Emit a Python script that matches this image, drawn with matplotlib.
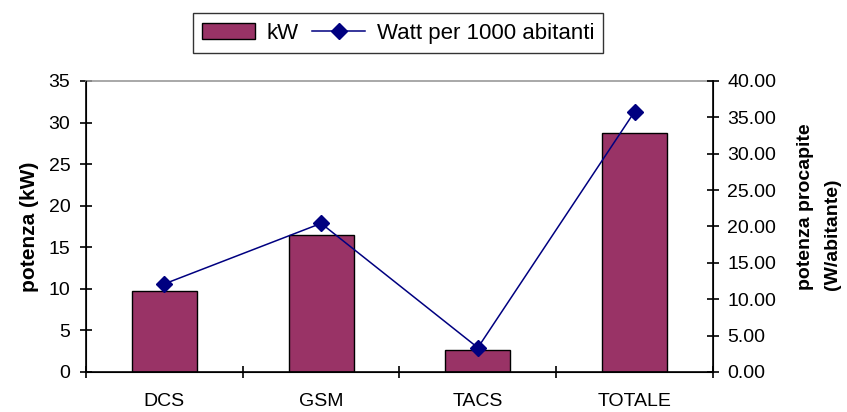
import numpy as np
import matplotlib; matplotlib.use("Agg")
import matplotlib.pyplot as plt
from matplotlib.ticker import FixedLocator, FormatStrFormatter
from matplotlib.patches import Patch
from matplotlib.lines import Line2D

plt.rcParams["font.family"] = ["Liberation Sans", "DejaVu Sans"]

categories = ["DCS", "GSM", "TACS", "TOTALE"]
kw = [9.76, 16.48, 2.68, 28.8]
watt_per_1000 = [12.11, 20.43, 3.34, 35.79]

BAR = "#993366"
LINE = "#000080"

fig = plt.figure(figsize=(8.47, 4.12), dpi=100)
ax = fig.add_axes([0.1015, 0.0971, 0.7403, 0.7063])
x = np.arange(len(categories))

ax.bar(x, kw, 0.415, color=BAR, edgecolor="black", linewidth=1.0, zorder=2)
ax.set_xlim(-0.5, len(categories) - 0.5)
ax.set_ylim(0, 35)
ax.set_yticks(np.arange(0, 36, 5))
ax.set_xticks(x)
ax.set_xticklabels(categories)
ax.xaxis.set_minor_locator(FixedLocator(np.arange(-0.5, len(categories), 1.0)))
ax.tick_params(axis="x", which="major", length=0, pad=15, labelsize=14)
ax.tick_params(axis="x", which="minor", length=9, width=1.2, direction="inout")
ax.tick_params(axis="y", length=8.6, width=1.2, direction="inout", labelsize=14, pad=7)
ax.set_ylabel("potenza (kW)", fontsize=15, fontweight="bold", labelpad=7)

for s in ("left", "bottom"):
    ax.spines[s].set_linewidth(1.2)
ax.spines["top"].set_color("#999999")
ax.spines["top"].set_linewidth(1.2)

ax2 = ax.twinx()
ax2.plot(x, watt_per_1000, color=LINE, lw=1.1, marker="D", ms=8.5, zorder=3)
ax2.set_ylim(0, 40)
ax2.set_yticks(np.arange(0, 41, 5))
ax2.yaxis.set_major_formatter(FormatStrFormatter("%.2f"))
ax2.tick_params(axis="y", length=8.6, width=1.2, direction="inout", labelsize=14, pad=6)
ax2.spines["right"].set_linewidth(1.2)
ax2.spines["top"].set_visible(False)

# right-hand title: two lines, starting at the same height
fig.text(819 / 847, 1 - 290 / 412, "potenza procapite\n(W/abitante)", rotation=90,
         ha="center", va="bottom", multialignment="left", fontsize=14,
         fontweight="bold", linespacing=1.7)

handles = [Patch(facecolor=BAR, edgecolor="black", linewidth=1.0),
           Line2D([], [], color=LINE, lw=1.1, marker="D", ms=8)]
leg = fig.legend(handles, ["kW", "Watt per 1000 abitanti"], loc="upper center",
                 bbox_to_anchor=(0.47, 0.968), ncol=2, fontsize=16, frameon=True,
                 fancybox=False, edgecolor="black", handlelength=2.4,
                 columnspacing=0.6, handletextpad=0.5, borderpad=0.42,
                 borderaxespad=0)
leg.get_frame().set_linewidth(1.0)

fig.savefig("out.png", dpi=100)
